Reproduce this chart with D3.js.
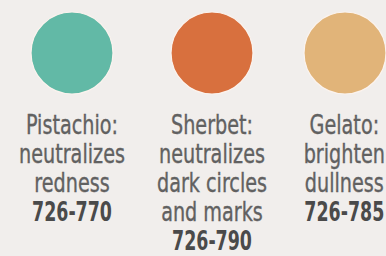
<!DOCTYPE html>
<html><head><meta charset="utf-8">
<script src="https://cdn.jsdelivr.net/npm/d3@7/dist/d3.min.js"></script>
<style>
html,body{margin:0;padding:0;background:#f1eeec;overflow:hidden;}
svg{display:block;}
</style></head>
<body>
<svg id="chart" width="386" height="256"></svg>
<script>
const shades = ["Pistachio", "Sherbet", "Gelato"];
const benefits = [
  ["neutralizes", "redness"],
  ["neutralizes", "dark circles", "and marks"],
  ["brighten", "dullness"]
];
const codes = ["726-770", "726-790", "726-785"];
const colors = ["#62b9a6", "#d8703e", "#e1b479"];

const W = 386, H = 256;
const svg = d3.select("#chart");
svg.append("rect").attr("width", W).attr("height", H).attr("fill", "#f1eeec");

const x = d3.scaleOrdinal().domain(shades).range([72, 212, 345]);
const r = 41, cy = 53;
const lineH = 29, firstBase = 134;
const fontFamily = "'DejaVu Sans Condensed','Liberation Sans Narrow','Liberation Sans',sans-serif";
const fontSize = 26;

const rows = shades.map((s, i) => ({
  name: s, color: colors[i],
  lines: [{t: s + ":", bold: false}]
    .concat(benefits[i].map(t => ({t, bold: false})))
    .concat([{t: codes[i], bold: true}])
}));

const col = svg.selectAll("g.col").data(rows).join("g")
  .attr("class", "col")
  .attr("transform", d => `translate(${x(d.name)},0)`);

col.append("circle")
  .attr("cx", 0).attr("cy", cy).attr("r", r)
  .attr("fill", d => d.color)
  .attr("stroke", "#fbf3ee").attr("stroke-width", 1.2);

const textG = col.append("g").attr("class", "txt");
const texts = textG.selectAll("text").data(d => d.lines).join("text")
  .attr("x", 0)
  .attr("y", (d, j) => firstBase + j * lineH)
  .attr("text-anchor", "middle")
  .attr("font-family", fontFamily)
  .attr("font-size", fontSize)
  .attr("font-weight", d => d.bold ? "bold" : "normal")
  .attr("fill", d => d.bold ? "#4a4a4a" : "#616161")
  .attr("stroke", d => d.bold ? "none" : "#616161")
  .attr("stroke-width", 0.35)
  .text(d => d.t);

// condensed look: regular lines so "neutralizes" ~106px, bold codes ~80px
function natWidth(t, bold) {
  const p = svg.append("text").attr("font-family", fontFamily)
    .attr("font-size", fontSize).attr("font-weight", bold ? "bold" : "normal").text(t);
  const w = p.node().getComputedTextLength(); p.remove(); return w;
}
const sxReg = 106 / natWidth("neutralizes", false);
const sxBold = 80 / natWidth(codes[0], true);
texts.attr("transform", d => `scale(${d.bold ? sxBold : sxReg},1)`);

// keep each column's text inside the picture
textG.each(function(d) {
  const cx = x(d.name);
  let half = 0;
  d3.select(this).selectAll("text").each(function(l) {
    const w = this.getComputedTextLength() * (l.bold ? sxBold : sxReg);
    half = Math.max(half, w / 2);
  });
  let dx = 0;
  if (cx + half > W - 1) dx = (W - 1) - (cx + half);
  d3.select(this).attr("transform", `translate(${dx},0)`);
});
</script>
</body></html>
